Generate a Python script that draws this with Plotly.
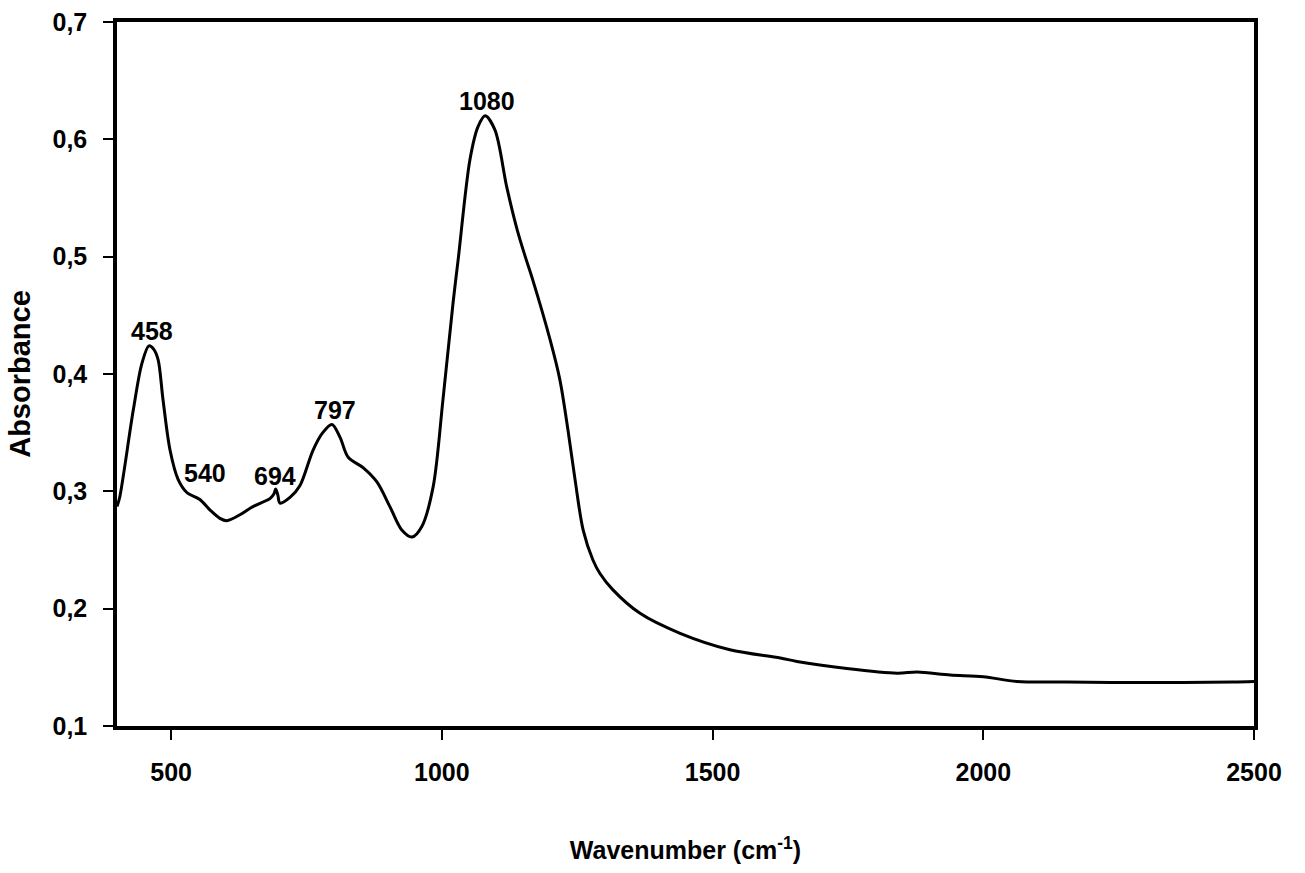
import plotly.graph_objects as go

# FTIR absorbance spectrum
wavenumber = [400, 405, 430, 446, 459, 468, 476, 485, 498, 513, 529, 553, 572, 590,
              603, 627, 651, 683, 690, 693, 697, 701, 720, 738, 762, 780, 797, 812,
              827, 855, 880, 904, 926, 945, 963, 984, 1002, 1021, 1030, 1052, 1067,
              1080, 1098, 1120, 1139, 1154, 1168, 1200, 1218, 1233, 1246, 1261, 1279,
              1292, 1316, 1366, 1440, 1532, 1625, 1656, 1748, 1841, 1878, 1939, 2000,
              2062, 2154, 2300, 2461, 2500]
absorbance = [0.287, 0.295, 0.369, 0.409, 0.424, 0.421, 0.412, 0.378, 0.335, 0.310,
              0.299, 0.293, 0.284, 0.277, 0.275, 0.280, 0.287, 0.294, 0.298, 0.302,
              0.297, 0.290, 0.295, 0.305, 0.335, 0.350, 0.357, 0.346, 0.329, 0.320,
              0.308, 0.287, 0.267, 0.261, 0.270, 0.304, 0.378, 0.462, 0.497, 0.583,
              0.611, 0.620, 0.608, 0.559, 0.523, 0.500, 0.480, 0.429, 0.395, 0.352,
              0.310, 0.267, 0.2415, 0.230, 0.216, 0.196, 0.179, 0.165, 0.158, 0.155,
              0.149, 0.145, 0.146, 0.1435, 0.142, 0.138, 0.1375, 0.137, 0.1375, 0.138]

# Band labels and where they sit
peak_labels = ["458", "540", "694", "797", "1080"]
peak_label_x = [465, 563, 692, 803, 1083]
peak_label_y = [0.437, 0.316, 0.313, 0.369, 0.633]

x_ticks = [500, 1000, 1500, 2000, 2500]
y_ticks = [0.1, 0.2, 0.3, 0.4, 0.5, 0.6, 0.7]
y_tick_text = ["0,1", "0,2", "0,3", "0,4", "0,5", "0,6", "0,7"]

FONT = "Arial, Liberation Sans, sans-serif"

fig = go.Figure()
fig.add_trace(go.Scatter(
    x=wavenumber, y=absorbance, mode="lines",
    line=dict(color="black", width=3, shape="spline", smoothing=0.9),
    hoverinfo="skip", showlegend=False,
))

for txt, lx, ly in zip(peak_labels, peak_label_x, peak_label_y):
    fig.add_annotation(x=lx, y=ly, text="<b>%s</b>" % txt, showarrow=False,
                       xanchor="center", yanchor="middle",
                       font=dict(family=FONT, size=25, color="black"))

axis_common = dict(
    showline=True, linecolor="black", linewidth=3.5, mirror=True,
    showgrid=False, zeroline=False, automargin=False,
    ticks="outside", ticklen=10, tickwidth=1.5, tickcolor="black",
    tickfont=dict(family=FONT, size=25, color="black", weight="bold"),
)

fig.update_xaxes(
    range=[400, 2500], tickvals=x_ticks, ticktext=[str(v) for v in x_ticks],
    ticklabelstandoff=11,
    title=dict(text="Wavenumber (cm<sup>-1</sup>)", standoff=58,
               font=dict(family=FONT, size=25, color="black", weight="bold")),
    **axis_common,
)
fig.update_yaxes(
    range=[0.1, 0.7], tickvals=y_ticks, ticktext=y_tick_text,
    ticklabelstandoff=11,
    title=dict(text="Absorbance", standoff=14,
               font=dict(family=FONT, size=29, color="black", weight="bold")),
    **axis_common,
)

fig.update_layout(
    width=1305, height=873,
    margin=dict(l=117, r=51, t=22, b=147),
    paper_bgcolor="white", plot_bgcolor="white",
)

fig.write_html("out.html")
